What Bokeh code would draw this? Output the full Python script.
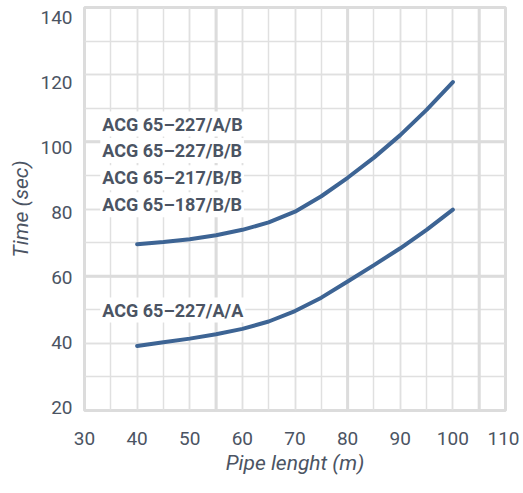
from bokeh.plotting import figure
from bokeh.models import ColumnDataSource, SingleIntervalTicker, Span, Range1d, LinearAxis
from bokeh.core.properties import value
from bokeh.embed import file_html
from bokeh.resources import INLINE

# ---- data ----
pipe_length = [40, 45, 50, 55, 60, 65, 70, 75, 80, 85, 90, 95, 100]
time_upper = [69.5, 70.2, 71.0, 72.2, 73.8, 76.0, 79.2, 83.8, 89.3, 95.3, 102.0, 109.5, 117.8]
time_lower = [39.2, 40.3, 41.4, 42.7, 44.3, 46.5, 49.6, 53.6, 58.4, 63.3, 68.3, 73.8, 79.8]

label_text = ["ACG 65\u2013227/A/B", "ACG 65\u2013227/B/B", "ACG 65\u2013217/B/B",
              "ACG 65\u2013187/B/B", "ACG 65\u2013227/A/A"]
label_x = [33.0, 33.0, 33.0, 33.0, 33.0]
label_y = [105.3, 97.4, 89.3, 81.3, 49.9]

thick_x = [55, 80, 105]
thick_y = [60, 100]

FONT = "Roboto"
TXT = "#4b5463"
LINE = "#3d6494"
GRID = "#e0e0e0"

p = figure(width=519, height=477, x_range=(30, 110), y_range=(20, 140),
           output_backend="svg", toolbar_location=None,
           min_border_left=84, min_border_right=14, min_border_top=7, min_border_bottom=62)

p.background_fill_color = "white"
p.border_fill_color = "white"
p.outline_line_color = "#dcdcdc"
p.outline_line_width = 3

p.xaxis.ticker = SingleIntervalTicker(interval=10, num_minor_ticks=2)
p.yaxis.ticker = SingleIntervalTicker(interval=20, num_minor_ticks=2)
p.yaxis.visible = False

# tick labels of the time axis sit on a slightly different scale than the grid
p.extra_y_ranges = {"lab": Range1d(19.0, 143.0)}
yax = LinearAxis(y_range_name="lab", ticker=SingleIntervalTicker(interval=20))
p.add_layout(yax, "left")

for g in (p.xgrid, p.ygrid):
    g.grid_line_color = GRID
    g.grid_line_width = 1.5
    g.minor_grid_line_color = GRID
    g.minor_grid_line_width = 1.5

for xv in thick_x:
    p.add_layout(Span(location=xv, dimension="height", line_color="#dcdcdc",
                      line_width=3, level="underlay"))
for yv in thick_y:
    p.add_layout(Span(location=yv, dimension="width", line_color="#dcdcdc",
                      line_width=3, level="underlay"))

for ax in (p.xaxis[0], yax):
    ax.axis_line_color = None
    ax.major_tick_line_color = None
    ax.minor_tick_line_color = None
    ax.major_label_text_font = FONT
    ax.major_label_text_font_size = "19px"
    ax.major_label_text_color = TXT
    ax.axis_label_text_font = FONT
    ax.axis_label_text_font_size = "21px"
    ax.axis_label_text_font_style = "italic"
    ax.axis_label_text_color = TXT

p.xaxis.axis_label = "Pipe lenght (m)"
yax.axis_label = "Time (sec)"
p.xaxis.major_label_standoff = 15
p.xaxis.axis_label_standoff = 3
yax.major_label_standoff = 6
yax.axis_label_standoff = 4

p.line(pipe_length, time_upper, line_width=4, line_color=LINE, line_cap="round")
p.line(pipe_length, time_lower, line_width=4, line_color=LINE, line_cap="round")

src = ColumnDataSource(dict(x=label_x, y=label_y, t=label_text))
p.text(x="x", y="y", text="t", source=src, text_font=value(FONT), text_font_style="bold",
       text_font_size="18px", text_color=TXT, text_baseline="middle", text_align="left",
       background_fill_color="white", padding=2)

open("out.html", "w").write(file_html(p, INLINE))
